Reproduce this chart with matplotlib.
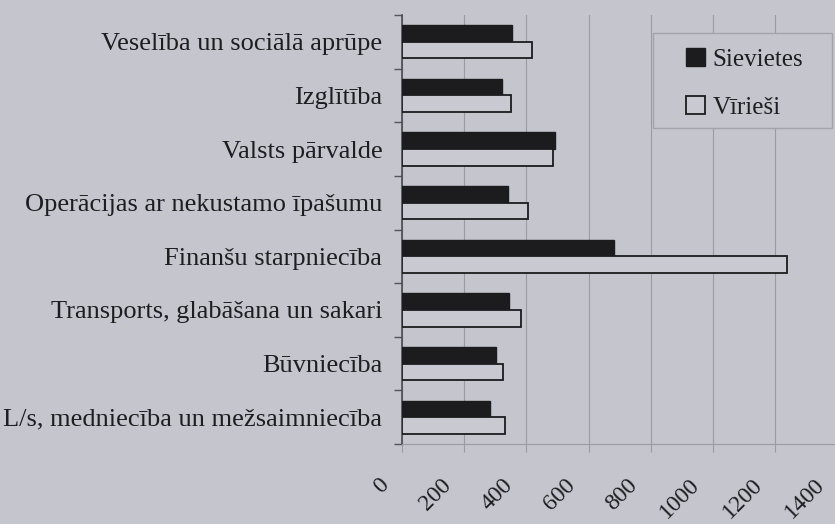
import matplotlib.pyplot as plt
from matplotlib.patches import Rectangle
from matplotlib.transforms import ScaledTranslation
import numpy as np

plt.rcParams['font.family'] = ['Liberation Serif', 'DejaVu Serif']

categories = [
    "Veselība un sociālā aprūpe",
    "Izglītība",
    "Valsts pārvalde",
    "Operācijas ar nekustamo īpašumu",
    "Finanšu starpniecība",
    "Transports, glabāšana un sakari",
    "Būvniecība",
    "L/s, medniecība un mežsaimniecība",
]
sievietes = [353, 321, 491, 342, 681, 345, 303, 284]
virieši = [417, 350, 486, 405, 1237, 384, 326, 333]
x_ticks = [0, 200, 400, 600, 800, 1000, 1200, 1400]

bg = '#c4c5cd'
ink = '#1e1e20'

fig = plt.figure(figsize=(8.35, 5.24), dpi=100, facecolor=bg)
ax = fig.add_axes([401.7 / 835, 1 - 444 / 524, (837.6 - 401.7) / 835, (444 - 15) / 524])
ax.set_facecolor(bg)

y = np.arange(len(categories))
h = 0.31
ax.barh(y - h / 2, sievietes, height=h, color='#1c1c1e', edgecolor='#1c1c1e',
        linewidth=1, label='Sievietes', zorder=3)
ax.barh(y + h / 2, virieši, height=h, color='#c9cad1', edgecolor='#1c1c1e',
        linewidth=1.3, label='Vīrieši', zorder=3)

ax.set_xlim(0, 1400)
ax.set_ylim(len(categories) - 0.5, -0.5)

# category boundaries get the tick marks, labels sit at the centres
ax.set_yticks(np.arange(len(categories) + 1) - 0.5)
ax.set_yticklabels([])
ax.set_yticks(y, minor=True)
ax.set_yticklabels(categories, minor=True, fontsize=19, color=ink)
ax.tick_params(axis='y', which='major', length=6, width=1, color='#55565c', direction='out')
ax.tick_params(axis='y', which='minor', length=0, pad=14)

ax.set_xticks(x_ticks)
ax.set_xticklabels([str(v) for v in x_ticks], rotation=45, ha='right',
                   fontsize=17, color=ink)
ax.tick_params(axis='x', length=6, width=0.8, color='#9a9ba3', pad=16)
shift = ScaledTranslation(-9 / 100, 0, fig.dpi_scale_trans)
for lbl in ax.get_xticklabels():
    lbl.set_transform(lbl.get_transform() + shift)

ax.grid(axis='x', color='#9a9ba3', linewidth=0.8)
ax.set_axisbelow(True)

for side in ['top', 'right']:
    ax.spines[side].set_visible(False)
ax.spines['left'].set_color('#4a4b50')
ax.spines['left'].set_linewidth(1.2)
ax.spines['bottom'].set_color('#9a9ba3')
ax.spines['bottom'].set_linewidth(0.8)

# legend frame drawn by hand: it is wider than it is tall around the entries
frame = Rectangle((653 / 835, 1 - 128 / 524), (832 - 653) / 835, 95 / 524,
                  transform=fig.transFigure, facecolor=bg, edgecolor='#a3a4ab',
                  linewidth=1, zorder=4, clip_on=False)
ax.add_artist(frame)
leg = ax.legend(loc='upper left', bbox_to_anchor=(686 / 835, 1 - 48 / 524),
                bbox_transform=fig.transFigure, fontsize=18, frameon=False,
                handlelength=0.75, handleheight=0.75, handletextpad=0.3,
                labelspacing=1.0, borderpad=0, borderaxespad=0)
leg.set_zorder(5)
for t in leg.get_texts():
    t.set_color(ink)

fig.savefig('out.png', dpi=100, facecolor=bg)
